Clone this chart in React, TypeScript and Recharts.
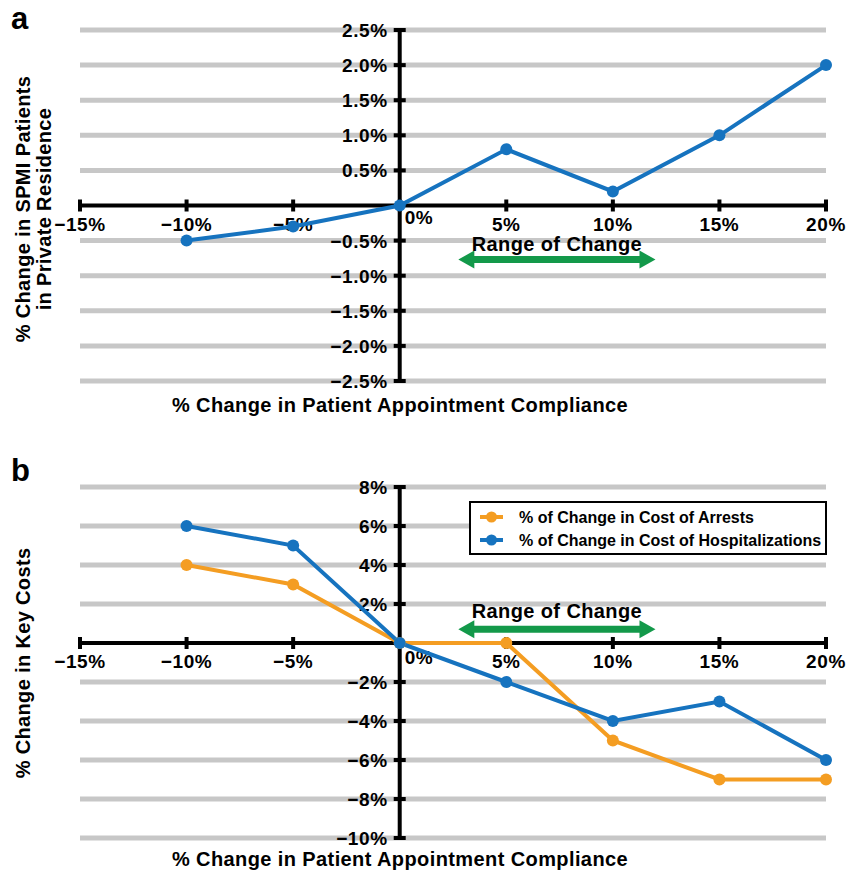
import { Legend, Line, LineChart, ReferenceDot, ReferenceLine, XAxis, YAxis } from "recharts";

const complianceSteps = [-10, -5, 0, 5, 10, 15, 20];
const residenceChange = [-0.5, -0.3, 0, 0.8, 0.2, 1.0, 2.0];
const arrestCostChange = [4, 3, 0, 0, -5, -7, -7];
const hospitalCostChange = [6, 5, 0, -2, -4, -3, -6];

const xTicks = [-15, -10, -5, 0, 5, 10, 15, 20];
const residenceTicks = [-2.5, -2, -1.5, -1, -0.5, 0.5, 1, 1.5, 2, 2.5];
const costTicks = [-10, -8, -6, -4, -2, 2, 4, 6, 8];
const rangeOfChange = [2.75, 12];

const arrestLabel = "% of Change in Cost of Arrests";
const hospitalLabel = "% of Change in Cost of Hospitalizations";

const BLUE = "#1673bf";
const ORANGE = "#f49d22";
const GREEN = "#13994a";
const GRID = "#c7c7c7";
const FONT = "'Liberation Sans', Arial, sans-serif";

const residenceData = complianceSteps.map((x, i) => ({ x, residence: residenceChange[i] }));
const costData = complianceSteps.map((x, i) => ({
  x,
  arrests: arrestCostChange[i],
  hospital: hospitalCostChange[i],
}));

const signed = (v: number, digits: number) =>
  (v < 0 ? "\u2212" : "") + Math.abs(v).toFixed(digits) + "%";

function xTickShape(value: number, zeroDrop: number) {
  return (p: any) => (
    <g>
      <line x1={p.cx} x2={p.cx} y1={p.cy - 6} y2={p.cy + 6} stroke="#000" strokeWidth={4} />
      <text
        x={value === 0 ? p.cx + 5 : p.cx}
        y={value === 0 ? p.cy + zeroDrop : p.cy + 25}
        textAnchor={value === 0 ? "start" : "middle"}
        fontFamily={FONT}
        fontWeight="bold"
        fontSize={19}
        letterSpacing={0.6}
        fill="#000"
      >
        {signed(value, 0)}
      </text>
    </g>
  );
}

function yTickShape(label: string) {
  return (p: any) => (
    <g>
      <line x1={p.cx - 6} x2={p.cx + 6} y1={p.cy} y2={p.cy} stroke="#000" strokeWidth={4} />
      <text
        x={p.cx - 12}
        y={p.cy + 7}
        textAnchor="end"
        fontFamily={FONT}
        fontWeight="bold"
        fontSize={19}
        letterSpacing={0.6}
        fill="#000"
      >
        {label}
      </text>
    </g>
  );
}

function arrowShape(textGap: number) {
  return (p: any) => {
    const { x1, x2, y1 } = p;
    const h = 16;
    const y = y1;
    const pts = [
      [x1, y],
      [x1 + h, y - 9],
      [x1 + h, y - 3.5],
      [x2 - h, y - 3.5],
      [x2 - h, y - 9],
      [x2, y],
      [x2 - h, y + 9],
      [x2 - h, y + 3.5],
      [x1 + h, y + 3.5],
      [x1 + h, y + 9],
    ]
      .map((q) => q.join(","))
      .join(" ");
    return (
      <g>
        <polygon points={pts} fill={GREEN} />
        <text
          x={(x1 + x2) / 2}
          y={y - textGap}
          textAnchor="middle"
          fontFamily={FONT}
          fontWeight="bold"
          fontSize={20}
          letterSpacing={0.4}
          fill="#000"
        >
          Range of Change
        </text>
      </g>
    );
  };
}

function CostLegend() {
  return (
    <svg width={358} height={54} style={{ display: "block" }}>
      <rect x={1} y={1} width={356} height={52} fill="#fff" stroke="#000" strokeWidth={2} />
      {[
        { label: arrestLabel, color: ORANGE, y: 16 },
        { label: hospitalLabel, color: BLUE, y: 39 },
      ].map((item) => (
        <g key={item.label}>
          <line x1={11} x2={34} y1={item.y} y2={item.y} stroke={item.color} strokeWidth={4} />
          <circle cx={22.5} cy={item.y} r={5.5} fill={item.color} />
          <text
            x={50}
            y={item.y + 6}
            fontFamily={FONT}
            fontWeight="bold"
            fontSize={16}
            fill="#000"
          >
            {item.label}
          </text>
        </g>
      ))}
    </svg>
  );
}

type PanelProps = {
  data: any[];
  yDomain: [number, number];
  yTicks: number[];
  yDigits: number;
  arrowY: number;
  textGap: number;
  zeroDrop: number;
  margin: { top: number; right: number; bottom: number; left: number };
  series: { key: string; color: string }[];
  legend?: boolean;
};

function Panel({ data, yDomain, yTicks, yDigits, arrowY, textGap, zeroDrop, margin, series, legend }: PanelProps) {
  return (
    <LineChart width={857} height={430} data={data} margin={margin}>
      <XAxis type="number" dataKey="x" domain={[-15, 20]} ticks={xTicks} hide />
      <YAxis type="number" domain={yDomain} hide />
      {yTicks.map((v) => (
        <ReferenceLine key={"g" + v} y={v} stroke={GRID} strokeWidth={5} zIndex={-100} />
      ))}
      <ReferenceLine y={0} stroke="#000" strokeWidth={4} zIndex={100} />
      <ReferenceLine x={0} stroke="#000" strokeWidth={4} zIndex={100} />
      {xTicks.map((v) => (
        <ReferenceDot
          key={"x" + v}
          x={v}
          y={0}
          r={0}
          ifOverflow="visible"
          shape={xTickShape(v, zeroDrop)}
          zIndex={150}
        />
      ))}
      {yTicks.map((v) => (
        <ReferenceDot
          key={"y" + v}
          x={0}
          y={v}
          r={0}
          ifOverflow="visible"
          shape={yTickShape(signed(v, yDigits))}
          zIndex={150}
        />
      ))}
      <ReferenceLine
        segment={[
          { x: rangeOfChange[0], y: arrowY },
          { x: rangeOfChange[1], y: arrowY },
        ]}
        ifOverflow="visible"
        shape={arrowShape(textGap)}
        zIndex={200}
      />
      {series.map((s) => (
        <Line
          key={s.key}
          type="linear"
          dataKey={s.key}
          stroke={s.color}
          strokeWidth={4}
          dot={{ r: 6, fill: s.color, stroke: s.color, strokeWidth: 0 }}
          activeDot={false}
          isAnimationActive={false}
        />
      ))}
      {legend && (
        <Legend
          layout="vertical"
          verticalAlign="middle"
          align="center"
          wrapperStyle={{ left: 469, top: 61, width: 358, height: 54 }}
          content={() => <CostLegend />}
        />
      )}
    </LineChart>
  );
}

export default function App() {
  const text = { fontFamily: FONT, fontWeight: "bold" as const, fill: "#000" };
  return (
    <div style={{ position: "absolute", left: 0, top: 0, width: 857, height: 870, background: "#fff" }}>
      <div style={{ position: "absolute", left: 0, top: 0 }}>
        <Panel
          data={residenceData}
          yDomain={[-2.5, 2.5]}
          yTicks={residenceTicks}
          yDigits={1}
          arrowY={-0.77}
          textGap={9}
          zeroDrop={18}
          margin={{ top: 30, right: 31, bottom: 49, left: 80 }}
          series={[{ key: "residence", color: BLUE }]}
        />
      </div>
      <div style={{ position: "absolute", left: 0, top: 440 }}>
        <Panel
          data={costData}
          yDomain={[-10, 8]}
          yTicks={costTicks}
          yDigits={0}
          arrowY={0.7}
          textGap={11}
          zeroDrop={21}
          margin={{ top: 47, right: 31, bottom: 32, left: 80 }}
          series={[
            { key: "arrests", color: ORANGE },
            { key: "hospital", color: BLUE },
          ]}
          legend
        />
      </div>
      <svg
        width={857}
        height={870}
        style={{ position: "absolute", left: 0, top: 0, pointerEvents: "none" }}
      >
        <text x={11} y={29} fontSize={31} {...text}>a</text>
        <text x={11} y={481} fontSize={31} {...text}>b</text>
        <text x={400} y={412} fontSize={20} letterSpacing={0.4} textAnchor="middle" {...text}>
          % Change in Patient Appointment Compliance
        </text>
        <text x={400} y={866} fontSize={20} letterSpacing={0.4} textAnchor="middle" {...text}>
          % Change in Patient Appointment Compliance
        </text>
        <text transform="translate(30,209) rotate(-90)" fontSize={20} letterSpacing={0.35} textAnchor="middle" {...text}>
          % Change in SPMI Patients
        </text>
        <text transform="translate(51,209) rotate(-90)" fontSize={20} letterSpacing={0.35} textAnchor="middle" {...text}>
          in Private Residence
        </text>
        <text transform="translate(30,663) rotate(-90)" fontSize={20} letterSpacing={0.35} textAnchor="middle" {...text}>
          % Change in Key Costs
        </text>
      </svg>
    </div>
  );
}
